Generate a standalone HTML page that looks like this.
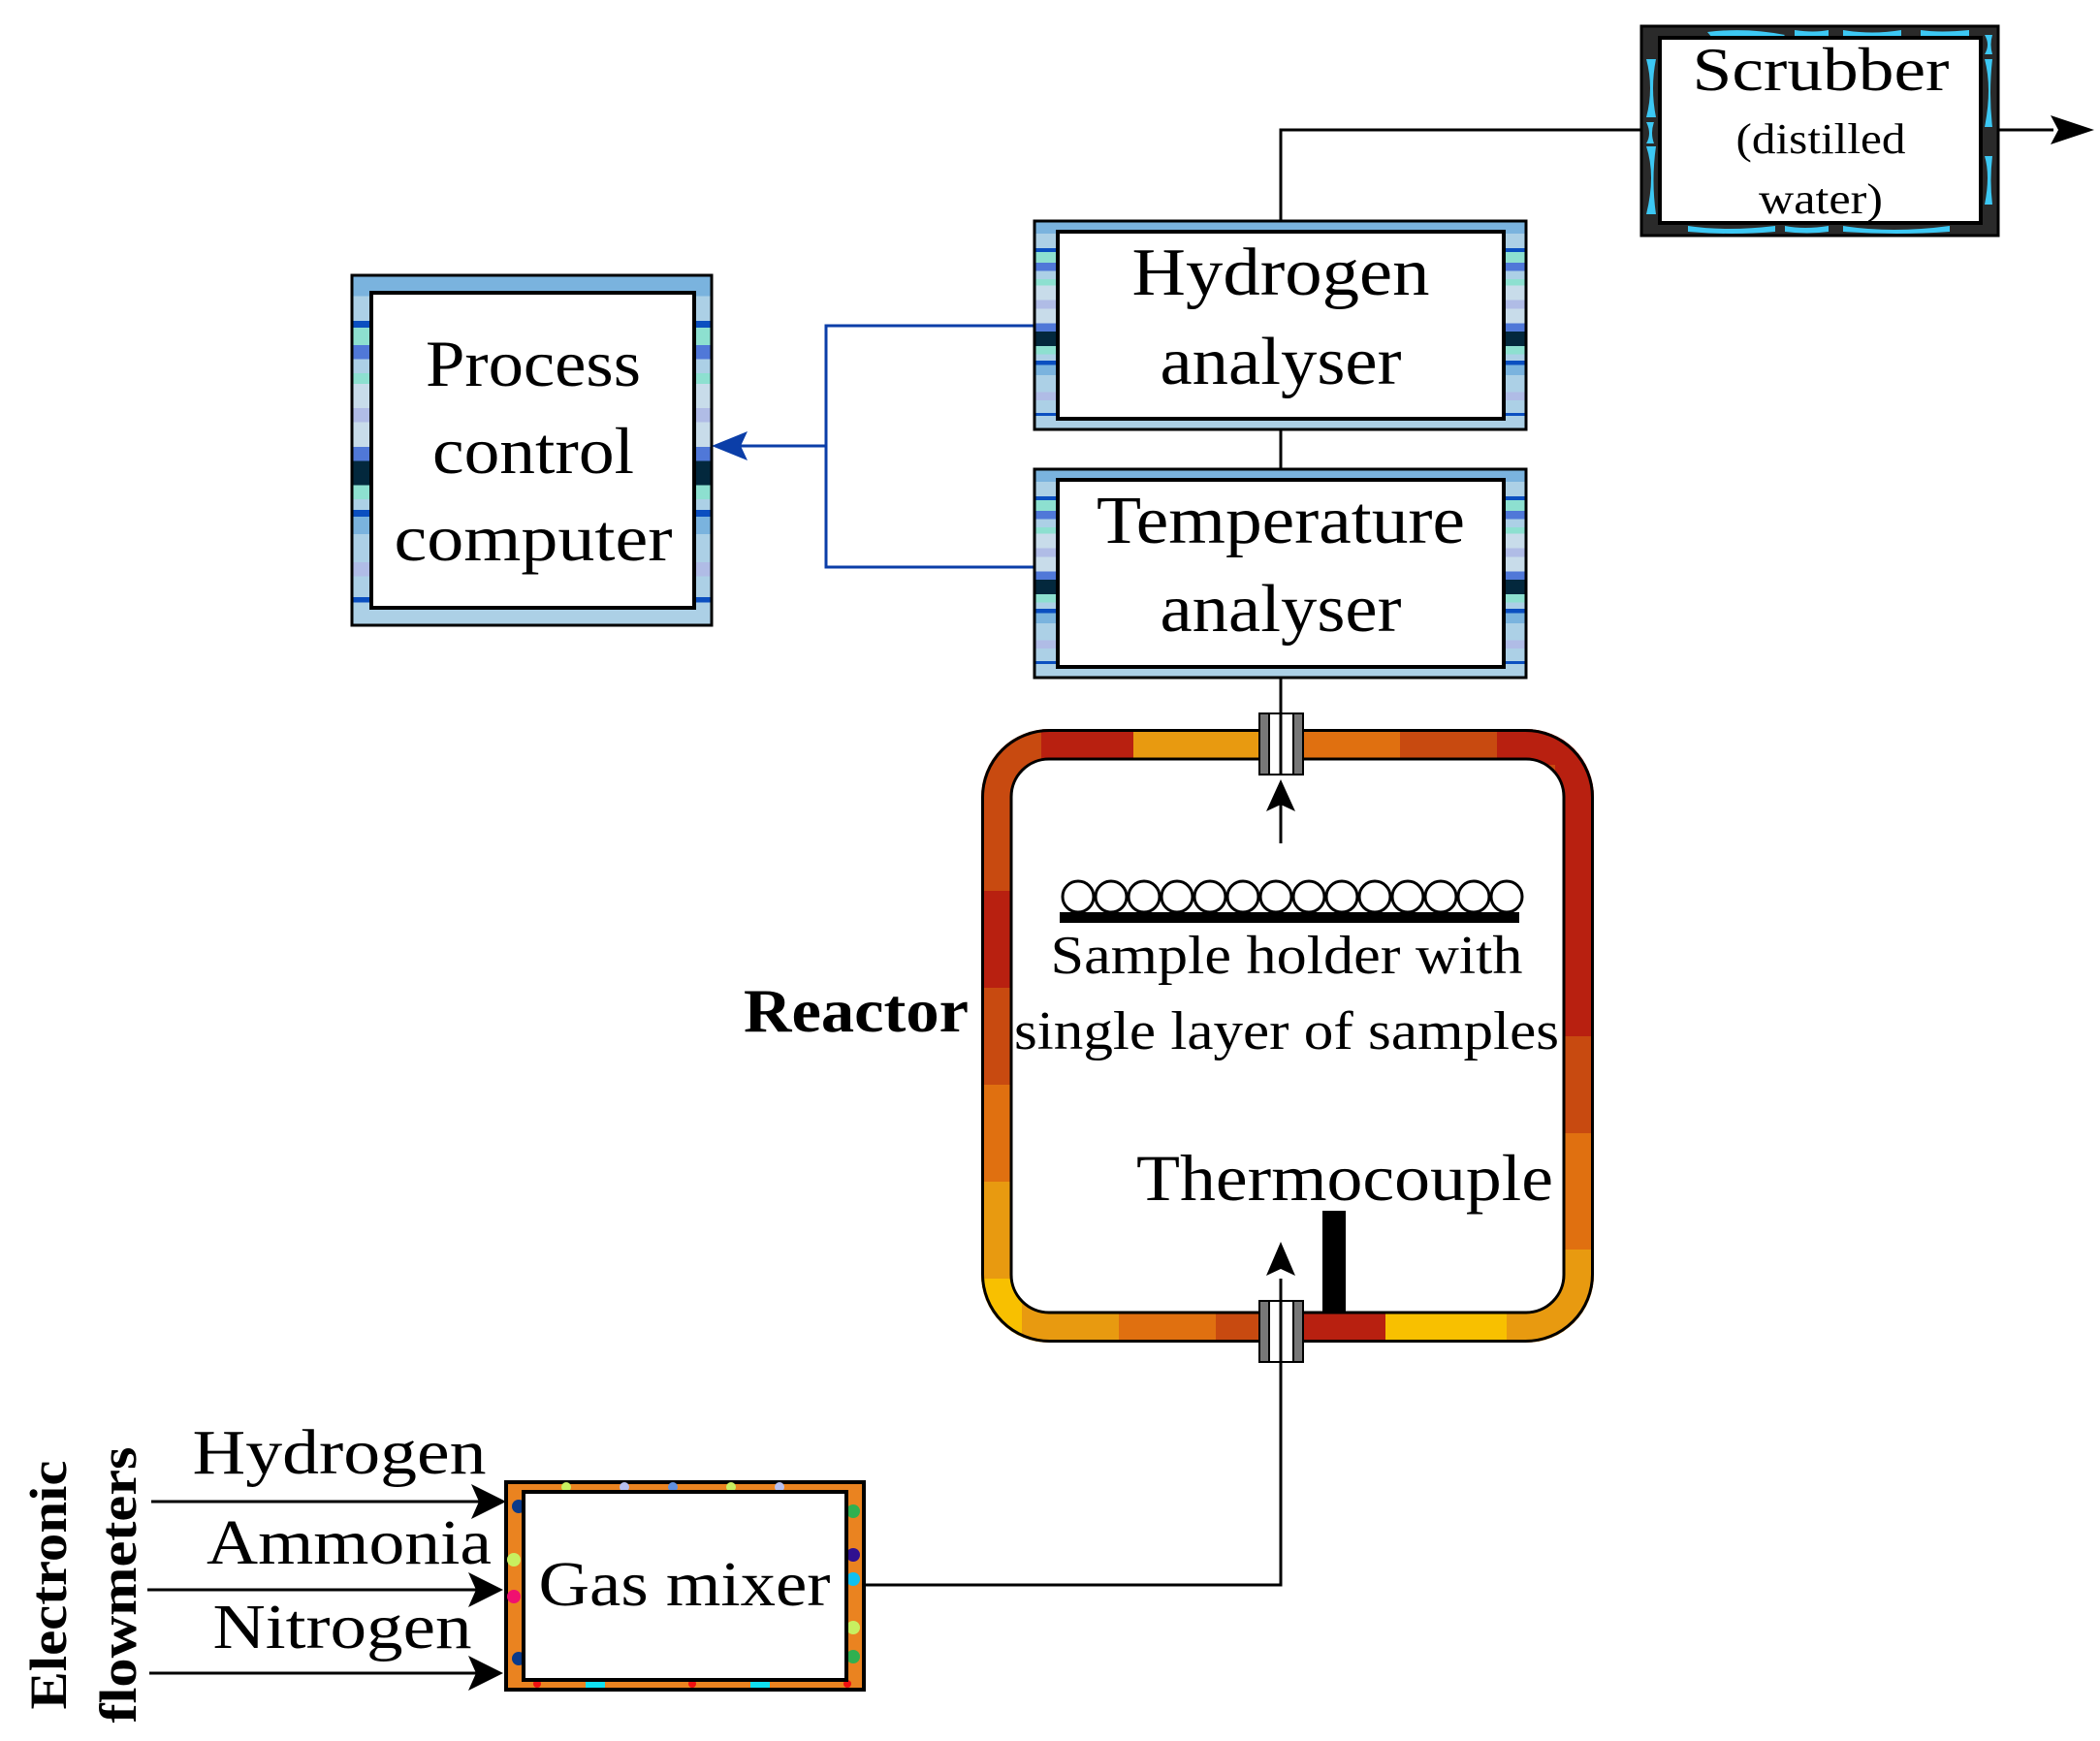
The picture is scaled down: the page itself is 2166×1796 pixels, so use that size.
<!DOCTYPE html>
<html><head><meta charset="utf-8"><style>html,body{margin:0;padding:0;background:#fff}svg{display:block}</style></head>
<body>
<svg width="2166" height="1796" viewBox="0 0 2166 1796" xmlns="http://www.w3.org/2000/svg" font-family="'Liberation Serif', serif">
<defs>
<linearGradient id="bs" x1="0" y1="0" x2="0" y2="1">
<stop offset="0" stop-color="#7ab3de"/><stop offset="0.06" stop-color="#7ab3de"/>
<stop offset="0.06" stop-color="#acd0e6"/><stop offset="0.13" stop-color="#acd0e6"/>
<stop offset="0.13" stop-color="#0b4fc0"/><stop offset="0.15" stop-color="#0b4fc0"/>
<stop offset="0.15" stop-color="#8de0d0"/><stop offset="0.2" stop-color="#8de0d0"/>
<stop offset="0.2" stop-color="#5078d8"/><stop offset="0.24" stop-color="#5078d8"/>
<stop offset="0.24" stop-color="#acd0e6"/><stop offset="0.28" stop-color="#acd0e6"/>
<stop offset="0.28" stop-color="#8de0d0"/><stop offset="0.31" stop-color="#8de0d0"/>
<stop offset="0.31" stop-color="#c8dcea"/><stop offset="0.38" stop-color="#c8dcea"/>
<stop offset="0.38" stop-color="#b0bce6"/><stop offset="0.42" stop-color="#b0bce6"/>
<stop offset="0.42" stop-color="#c8dcea"/><stop offset="0.49" stop-color="#c8dcea"/>
<stop offset="0.49" stop-color="#5078d8"/><stop offset="0.53" stop-color="#5078d8"/>
<stop offset="0.53" stop-color="#03283d"/><stop offset="0.6" stop-color="#03283d"/>
<stop offset="0.6" stop-color="#8de0d0"/><stop offset="0.64" stop-color="#8de0d0"/>
<stop offset="0.64" stop-color="#acd0e6"/><stop offset="0.67" stop-color="#acd0e6"/>
<stop offset="0.67" stop-color="#0b4fc0"/><stop offset="0.69" stop-color="#0b4fc0"/>
<stop offset="0.69" stop-color="#7ab3de"/><stop offset="0.74" stop-color="#7ab3de"/>
<stop offset="0.74" stop-color="#acd0e6"/><stop offset="0.82" stop-color="#acd0e6"/>
<stop offset="0.82" stop-color="#b0bce6"/><stop offset="0.86" stop-color="#b0bce6"/>
<stop offset="0.86" stop-color="#acd0e6"/><stop offset="0.92" stop-color="#acd0e6"/>
<stop offset="0.92" stop-color="#0b4fc0"/><stop offset="0.935" stop-color="#0b4fc0"/>
<stop offset="0.935" stop-color="#acd0e6"/><stop offset="1" stop-color="#acd0e6"/>
</linearGradient>
<clipPath id="ring"><path fill-rule="evenodd" d="M1088,753 H1580 A70,70 0 0 1 1650,823 V1316 A70,70 0 0 1 1580,1386 H1088 A70,70 0 0 1 1018,1316 V823 A70,70 0 0 1 1088,753 Z M1088,784 A39,39 0 0 0 1049,823 V1316 A39,39 0 0 0 1088,1355 H1580 A39,39 0 0 0 1619,1316 V823 A39,39 0 0 0 1580,784 Z"/></clipPath>
</defs>
<g transform="translate(-6,-1)">
<!-- connectors -->
<polyline points="1327,229 1327,135 1710,135" fill="none" stroke="#000" stroke-width="3"/>
<line x1="1327" y1="444" x2="1327" y2="485" stroke="#000" stroke-width="3"/>
<line x1="1327" y1="700" x2="1327" y2="740" stroke="#000" stroke-width="3"/>
<line x1="2066" y1="135" x2="2124" y2="135" stroke="#000" stroke-width="3"/>
<path d="M2166,135 L2121,120 L2129,135 L2121,150 Z" fill="#000"/>
<polyline points="1073,337 858,337 858,586 1073,586" fill="none" stroke="#0b3ea8" stroke-width="3"/>
<line x1="858" y1="461" x2="770" y2="461" stroke="#0b3ea8" stroke-width="3"/>
<path d="M740,461 L777,446 L770,461 L777,476 Z" fill="#0b3ea8"/>

<!-- Scrubber -->
<g transform="translate(7,2)">
<rect x="1692" y="26" width="368" height="216" fill="#2a2a2a" stroke="#000" stroke-width="3"/>
<g fill="#3cc8f4">
<path d="M1697,60 q8,30 0,60 l10,0 q-6,-30 0,-60z"/><path d="M1697,150 q10,30 0,70 l10,0 q-5,-35 0,-70z"/>
<path d="M1697,125 q6,12 0,22 l8,0 q-4,-11 0,-22z"/>
<path d="M1760,32 q40,-5 80,3 l-5,5 q-35,-4 -70,-2z"/><path d="M1900,30 q30,5 60,0 l0,6 q-30,4 -60,0z"/>
<path d="M1850,30 q20,3 35,0 l0,6 q-18,3 -35,0z"/><path d="M1980,30 q20,3 50,0 l0,6 q-25,3 -50,0z"/>
<path d="M1740,232 q40,6 90,0 l0,6 q-45,4 -90,0z"/><path d="M1900,232 q50,8 110,0 l0,6 q-55,4 -110,0z"/>
<path d="M1840,232 q20,4 45,0 l0,6 q-22,3 -45,0z"/>
<path d="M2046,60 q8,30 0,70 l8,0 q-4,-35 0,-70z"/><path d="M2046,160 q6,20 0,50 l8,0 q-3,-25 0,-50z"/>
<path d="M2046,35 q6,10 0,20 l8,0 q-3,-10 0,-20z"/>
</g>
<rect x="1711" y="38" width="331" height="191" fill="#fff" stroke="#000" stroke-width="4"/>
<text x="1877" y="92" font-size="64" text-anchor="middle" textLength="265" lengthAdjust="spacingAndGlyphs">Scrubber</text>
<text x="1877" y="157" font-size="44" text-anchor="middle" textLength="175" lengthAdjust="spacingAndGlyphs">(distilled</text>
<text x="1877" y="219" font-size="44" text-anchor="middle" textLength="128" lengthAdjust="spacingAndGlyphs">water)</text>
</g>

<!-- Hydrogen analyser -->
<rect x="1073" y="229" width="507" height="215" fill="url(#bs)" stroke="#000" stroke-width="3"/>
<rect x="1097" y="240" width="460" height="193" fill="#fff" stroke="#000" stroke-width="4"/>
<text x="1327" y="305" font-size="70" text-anchor="middle" textLength="307" lengthAdjust="spacingAndGlyphs">Hydrogen</text>
<text x="1327" y="397" font-size="70" text-anchor="middle" textLength="249" lengthAdjust="spacingAndGlyphs">analyser</text>

<!-- Temperature analyser -->
<rect x="1073" y="485" width="507" height="215" fill="url(#bs)" stroke="#000" stroke-width="3"/>
<rect x="1097" y="496" width="460" height="193" fill="#fff" stroke="#000" stroke-width="4"/>
<text x="1327" y="561" font-size="70" text-anchor="middle" textLength="380" lengthAdjust="spacingAndGlyphs">Temperature</text>
<text x="1327" y="652" font-size="70" text-anchor="middle" textLength="249" lengthAdjust="spacingAndGlyphs">analyser</text>

<!-- Process control computer -->
<rect x="369" y="285" width="371" height="361" fill="url(#bs)" stroke="#000" stroke-width="3"/>
<rect x="389" y="303" width="333" height="325" fill="#fff" stroke="#000" stroke-width="4"/>
<text x="556" y="399" font-size="68" text-anchor="middle" textLength="222" lengthAdjust="spacingAndGlyphs">Process</text>
<text x="556" y="489" font-size="68" text-anchor="middle" textLength="208" lengthAdjust="spacingAndGlyphs">control</text>
<text x="556" y="579" font-size="68" text-anchor="middle" textLength="287" lengthAdjust="spacingAndGlyphs">computer</text>

<!-- Reactor ring -->
<g clip-path="url(#ring)">
<rect x="1000" y="740" width="680" height="660" fill="#c84a10"/>
<rect x="1080" y="740" width="95" height="50" fill="#b82010"/>
<rect x="1175" y="740" width="135" height="50" fill="#e89a10"/>
<rect x="1350" y="740" width="100" height="50" fill="#e07010"/>
<rect x="1550" y="740" width="130" height="50" fill="#b82010"/>
<rect x="1610" y="740" width="70" height="330" fill="#b82010"/>
<rect x="1610" y="1170" width="70" height="120" fill="#e07010"/>
<rect x="1590" y="1290" width="90" height="110" fill="#e89a10"/>
<rect x="1000" y="920" width="60" height="100" fill="#b82010"/>
<rect x="1000" y="1120" width="60" height="100" fill="#e07010"/>
<rect x="1000" y="1220" width="60" height="100" fill="#e89a10"/>
<rect x="1000" y="1320" width="80" height="80" fill="#f8c000"/>
<rect x="1060" y="1340" width="100" height="60" fill="#e89a10"/>
<rect x="1160" y="1340" width="100" height="60" fill="#e07010"/>
<rect x="1350" y="1340" width="85" height="60" fill="#b82010"/>
<rect x="1435" y="1340" width="125" height="60" fill="#f8c000"/>
<rect x="1560" y="1340" width="60" height="60" fill="#e89a10"/>
</g>
<rect x="1019.5" y="754.5" width="629" height="630" rx="69" fill="none" stroke="#000" stroke-width="3"/>
<rect x="1049" y="784" width="570" height="571" rx="39" fill="none" stroke="#000" stroke-width="3"/>

<!-- ports -->
<g stroke="#000" stroke-width="2">
<rect x="1305" y="737" width="45" height="63" fill="#fff"/>
<rect x="1305" y="737" width="10" height="63" fill="#777"/><rect x="1340" y="737" width="10" height="63" fill="#777"/>
<rect x="1305" y="1343" width="45" height="63" fill="#fff"/>
<rect x="1305" y="1343" width="10" height="63" fill="#777"/><rect x="1340" y="1343" width="10" height="63" fill="#777"/>
</g>
<line x1="1327" y1="737" x2="1327" y2="800" stroke="#000" stroke-width="3"/>
<line x1="1327" y1="871" x2="1327" y2="820" stroke="#000" stroke-width="3"/>
<path d="M1327,805 L1312,838 L1327,831 L1342,838 Z" fill="#000"/>

<!-- samples -->
<g fill="#fff" stroke="#000" stroke-width="3">
<circle cx="1118" cy="926" r="16"/><circle cx="1152" cy="926" r="16"/><circle cx="1186" cy="926" r="16"/><circle cx="1220" cy="926" r="16"/><circle cx="1254" cy="926" r="16"/><circle cx="1288" cy="926" r="16"/><circle cx="1322" cy="926" r="16"/><circle cx="1356" cy="926" r="16"/><circle cx="1390" cy="926" r="16"/><circle cx="1424" cy="926" r="16"/><circle cx="1458" cy="926" r="16"/><circle cx="1492" cy="926" r="16"/><circle cx="1526" cy="926" r="16"/><circle cx="1560" cy="926" r="16"/>
</g>
<rect x="1099" y="942" width="474" height="11" fill="#000"/>
<text x="1333" y="1005" font-size="56" text-anchor="middle" textLength="487" lengthAdjust="spacingAndGlyphs">Sample holder with</text>
<text x="1333" y="1083" font-size="56" text-anchor="middle" textLength="562" lengthAdjust="spacingAndGlyphs">single layer of samples</text>
<text x="1005" y="1065" font-size="64" font-weight="bold" text-anchor="end" textLength="232" lengthAdjust="spacingAndGlyphs">Reactor</text>
<text x="1608" y="1239" font-size="68" text-anchor="end" textLength="430" lengthAdjust="spacingAndGlyphs">Thermocouple</text>
<rect x="1370" y="1250" width="24" height="105" fill="#000"/>

<!-- gas mixer to reactor -->
<polyline points="897,1636 1327,1636 1327,1320" fill="none" stroke="#000" stroke-width="3"/>
<path d="M1327,1282 L1312,1317 L1327,1310 L1342,1317 Z" fill="#000"/>

<!-- Gas mixer -->
<rect x="528" y="1530" width="369" height="214" fill="#ea8320" stroke="#000" stroke-width="4"/>
<g>
<circle cx="541" cy="1555" r="7" fill="#0a3a8a"/><circle cx="536" cy="1610" r="7" fill="#c8f060"/><circle cx="536" cy="1648" r="7" fill="#f01070"/><circle cx="541" cy="1712" r="7" fill="#0a3a8a"/>
<circle cx="886" cy="1560" r="7" fill="#30b050"/><circle cx="886" cy="1605" r="7" fill="#301090"/><circle cx="886" cy="1630" r="7" fill="#10c0f0"/><circle cx="886" cy="1680" r="7" fill="#c8f060"/><circle cx="886" cy="1710" r="7" fill="#30b050"/>
<circle cx="590" cy="1535" r="5" fill="#c8f060"/><circle cx="650" cy="1535" r="5" fill="#b8c0f0"/><circle cx="700" cy="1535" r="5" fill="#6090e0"/><circle cx="760" cy="1535" r="5" fill="#c8f060"/><circle cx="810" cy="1535" r="5" fill="#b8c0f0"/>
<circle cx="560" cy="1738" r="4" fill="#f01010"/><rect x="610" y="1734" width="20" height="8" fill="#10e0f0"/><circle cx="720" cy="1738" r="4" fill="#f01010"/><rect x="780" y="1734" width="20" height="8" fill="#10e0f0"/><circle cx="880" cy="1738" r="4" fill="#f01010"/>
</g>
<rect x="546" y="1540" width="333" height="194" fill="#fff" stroke="#000" stroke-width="4"/>
<text x="712" y="1657" font-size="66" text-anchor="middle" textLength="301" lengthAdjust="spacingAndGlyphs">Gas mixer</text>

<!-- flowmeter inputs -->
<g stroke="#000" stroke-width="3">
<line x1="162" y1="1550" x2="500" y2="1550"/><line x1="158" y1="1641" x2="500" y2="1641"/><line x1="160" y1="1727" x2="500" y2="1727"/>
</g>
<path d="M528,1550 L492,1532 L500,1550 L492,1568 Z" fill="#000"/>
<path d="M525,1641 L489,1623 L497,1641 L489,1659 Z" fill="#000"/>
<path d="M525,1727 L489,1709 L497,1727 L489,1745 Z" fill="#000"/>
<text x="356" y="1521" font-size="66" text-anchor="middle" textLength="303" lengthAdjust="spacingAndGlyphs">Hydrogen</text>
<text x="366" y="1614" font-size="66" text-anchor="middle" textLength="294" lengthAdjust="spacingAndGlyphs">Ammonia</text>
<text x="359" y="1701" font-size="66" text-anchor="middle" textLength="267" lengthAdjust="spacingAndGlyphs">Nitrogen</text>
<text transform="translate(74,1636) rotate(-90)" font-size="54" font-weight="bold" text-anchor="middle" textLength="257" lengthAdjust="spacingAndGlyphs">Electronic</text>
<text transform="translate(146,1636) rotate(-90)" font-size="54" font-weight="bold" text-anchor="middle" textLength="285" lengthAdjust="spacingAndGlyphs">flowmeters</text>
</g>
</svg>
</body></html>
